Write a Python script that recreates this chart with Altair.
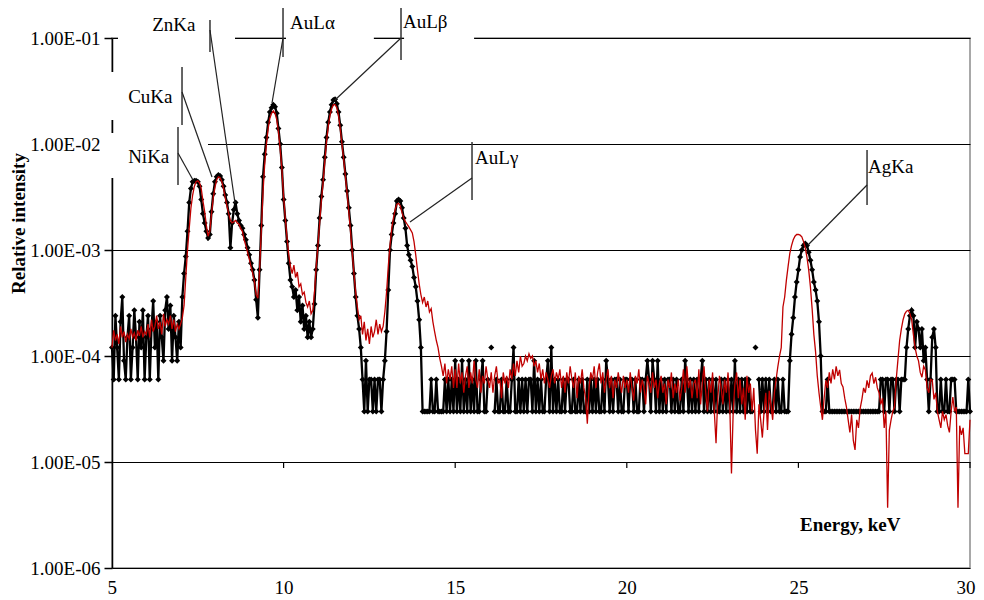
import altair as alt
import pandas as pd

FONT = "Liberation Serif"

# energy grid (keV), 0.05 keV steps from 5 to 30
energy = [round(5 + 0.05 * i, 2) for i in range(501)]

b05 = [1.2e-4, 6e-5, 2.4e-4, 1.2e-4, 6e-5, 2.1e-4, 3.6e-4, 9e-5, 6e-5, 1.5e-4, 2.4e-4, 6e-5, 1.2e-4, 2.7e-4, 1.5e-4, 6e-5, 2.1e-4, 1.2e-4, 2.7e-4, 6e-5]
b06 = [1.5e-4, 2.4e-4, 6e-5, 1.8e-4, 3.3e-4, 1.2e-4, 2.1e-4, 6e-5, 2.4e-4, 1.5e-4, 9e-5, 2.7e-4, 3.6e-4, 1.8e-4, 3e-4, 9e-5, 2.4e-4, 1.5e-4, 9e-5, 2.1e-4]
b07 = [1.2e-4, 3.6e-4, 6e-4, 8.7e-4, 1.5e-3, 2.8e-3, 3.8e-3, 4.4e-3, 4.5e-3, 4.5e-3, 4.4e-3, 4.0e-3, 3.0e-3, 2.2e-3, 1.8e-3, 1.5e-3, 1.3e-3, 1.4e-3, 2.3e-3, 3.4e-3]
b08 = [4.4e-3, 4.9e-3, 5.1e-3, 5.0e-3, 4.6e-3, 4.0e-3, 3.3e-3, 2.8e-3, 2.2e-3, 1.05e-3, 1.8e-3, 2.4e-3, 2.8e-3, 2.2e-3, 1.9e-3, 1.7e-3, 1.6e-3, 1.4e-3, 1.25e-3, 1.05e-3]
b09 = [9e-4, 7.5e-4, 6.5e-4, 5.2e-4, 3.4e-4, 2.3e-4, 6.5e-4, 1.7e-3, 4.9e-3, 8.0e-3, 1.15e-2, 1.6e-2, 2.0e-2, 2.2e-2, 2.35e-2, 2.25e-2, 1.95e-2, 1.4e-2, 1.0e-2, 6.0e-3]
b10 = [3.0e-3, 1.9e-3, 1.2e-3, 7.5e-4, 5.2e-4, 4.5e-4, 3.6e-4, 4.2e-4, 2.7e-4, 3.6e-4, 2.1e-4, 3e-4, 1.8e-4, 2.4e-4, 1.5e-4, 2.1e-4, 1.5e-4, 1.8e-4, 3.1e-4, 6.5e-4]
b11 = [1.1e-3, 2.0e-3, 3.2e-3, 4.6e-3, 7.5e-3, 1.15e-2, 1.6e-2, 2.0e-2, 2.35e-2, 2.6e-2, 2.65e-2, 2.4e-2, 2.0e-2, 1.5e-2, 1.05e-2, 7.5e-3, 5.2e-3, 3.6e-3, 2.5e-3, 1.7e-3]
b12 = [1.0e-3, 6.0e-4, 3.6e-4, 2.4e-4, 1.8e-4, 1.2e-4, 6e-5, 3e-5, 9e-5, 3e-5, 6e-5, 6e-5, 3e-5, 6e-5, 3e-5, 6e-5, 6e-5, 3e-5, 6e-5, 9e-5]
b13 = [1.7e-4, 4.2e-4, 1.0e-3, 1.4e-3, 1.8e-3, 2.2e-3, 2.9e-3, 3.0e-3, 2.9e-3, 2.5e-3, 2.0e-3, 1.6e-3, 1.1e-3, 9e-4, 8e-4, 7e-4, 5.5e-4, 4.5e-4, 3.3e-4, 2.2e-4]
b14 = [1.2e-4, 3e-5, 3e-5, 3e-5, 3e-5, 3e-5, 6e-5, 3e-5, 3e-5, 6e-5, 3e-5, 3e-5, 3e-5, 3e-5, 6e-5, 3e-5, 6e-5, 3e-5, 6e-5, 3e-5]
b15 = [9e-5, 3e-5, 6e-5, 3e-5, 9e-5, 3e-5, 6e-5, 3e-5, 9e-5, 3e-5, 6e-5, 3e-5, 9e-5, 3e-5, 3e-5, 6e-5, 9e-5, 3e-5, 3e-5, 6e-5]
b16 = [None, 1.2e-4, None, 3e-5, 6e-5, 3e-5, 3e-5, 6e-5, 3e-5, 3e-5, 6e-5, 3e-5, 3e-5, 6e-5, 1.2e-4, 3e-5, 3e-5, 6e-5, 3e-5, 6e-5]
b17 = [3e-5, 6e-5, 3e-5, 6e-5, 6e-5, 3e-5, 9e-5, 3e-5, 6e-5, 3e-5, 6e-5, 3e-5, 3e-5, 6e-5, 9e-5, 3e-5, 1.2e-4, 3e-5, 6e-5, 3e-5]
b18 = [6e-5, 3e-5, 3e-5, 6e-5, 3e-5, 6e-5, 6e-5, 3e-5, 3e-5, 6e-5, 3e-5, 3e-5, 6e-5, 3e-5, 6e-5, 3e-5, 3e-5, 6e-5, 3e-5, 6e-5]
b19 = [3e-5, 6e-5, 3e-5, 6e-5, 3e-5, 3e-5, 6e-5, 3e-5, 9e-5, 6e-5, 3e-5, 6e-5, 3e-5, 6e-5, 6e-5, 3e-5, 6e-5, 3e-5, 3e-5, 6e-5]
b20 = [6e-5, 3e-5, 6e-5, 6e-5, 3e-5, 6e-5, 3e-5, 3e-5, 6e-5, 6e-5, 3e-5, 6e-5, 9e-5, 6e-5, 3e-5, 9e-5, 6e-5, 3e-5, 9e-5, 3e-5]
b21 = [6e-5, 3e-5, 6e-5, 3e-5, 6e-5, 6e-5, 3e-5, 6e-5, 3e-5, 6e-5, 3e-5, 3e-5, 6e-5, 3e-5, 9e-5, 6e-5, 3e-5, 6e-5, 3e-5, 6e-5]
b22 = [3e-5, 6e-5, 3e-5, 6e-5, 9e-5, 3e-5, 6e-5, 3e-5, 6e-5, 3e-5, 6e-5, 3e-5, 6e-5, 3e-5, 3e-5, 6e-5, 3e-5, 6e-5, 3e-5, 6e-5]
b23 = [3e-5, 6e-5, 3e-5, 9e-5, 3e-5, 6e-5, 3e-5, 6e-5, 3e-5, 6e-5, 3e-5, 6e-5, 3e-5, 3e-5, None, 1.2e-4, None, 6e-5, 3e-5, 6e-5]
b24 = [3e-5, 6e-5, 3e-5, 6e-5, 3e-5, 3e-5, 6e-5, 3e-5, 6e-5, 3e-5, 3e-5, 6e-5, 3e-5, 3e-5, 3e-5, 9e-5, 1.6e-4, 2.3e-4, 3.6e-4, 5e-4]
b25 = [6.5e-4, 8.6e-4, 1.0e-3, 1.1e-3, 1.15e-3, 1.1e-3, 9.5e-4, 8e-4, 6.5e-4, 5e-4, 4.2e-4, 3.3e-4, 2.1e-4, 1e-4, 3e-5, 3e-5, 3e-5, 6e-5, 3e-5, 3e-5]
b26 = [3e-5, 3e-5, 3e-5, 3e-5, 3e-5, 3e-5, 3e-5, 3e-5, 3e-5, 3e-5, 3e-5, 3e-5, 3e-5, 3e-5, 3e-5, 3e-5, 3e-5, 3e-5, 3e-5, 3e-5]
b27 = [3e-5, 3e-5, 3e-5, 3e-5, 3e-5, 3e-5, 3e-5, 3e-5, 6e-5, 6e-5, 3e-5, 6e-5, 6e-5, 3e-5, 6e-5, 6e-5, 3e-5, 6e-5, 6e-5, 3e-5]
b28 = [6e-5, 6e-5, 6e-5, 1.2e-4, 1.8e-4, 2.4e-4, 2.7e-4, 2.4e-4, 1.2e-4, 2.1e-4, 1.8e-4, 1.2e-4, 1.8e-4, 9e-5, 1.2e-4, 6e-5, 3e-5, 6e-5, 1.5e-4, 1.8e-4]
b29 = [1.2e-4, 3e-5, 3e-5, 6e-5, 3e-5, 3e-5, 6e-5, 3e-5, 3e-5, 6e-5, 6e-5, 6e-5, 3e-5, 3e-5, 3e-5, 3e-5, 3e-5, 3e-5, 3e-5, 6e-5]
b30 = [3e-5]

# simulated spectrum (red line)
r05 = [1.2e-4, 1.75e-4, 1.4e-4, 1.6e-4, 1.3e-4, 1.9e-4, 1.5e-4, 1.7e-4, 1.35e-4, 1.6e-4, 1.45e-4, 1.8e-4, 1.5e-4, 1.65e-4, 1.4e-4, 1.75e-4, 1.55e-4, 1.9e-4, 1.5e-4, 1.7e-4]
r06 = [1.6e-4, 2.0e-4, 1.5e-4, 2.2e-4, 1.7e-4, 1.9e-4, 2.4e-4, 1.8e-4, 2.1e-4, 1.6e-4, 2.5e-4, 1.9e-4, 2.2e-4, 2.0e-4, 2.4e-4, 1.8e-4, 2.2e-4, 1.7e-4, 2.0e-4, 1.8e-4]
r07 = [2.0e-4, 2.3e-4, 3.0e-4, 5.5e-4, 1.0e-3, 1.6e-3, 2.5e-3, 3.3e-3, 4.0e-3, 4.4e-3, 4.5e-3, 4.3e-3, 3.8e-3, 2.9e-3, 2.3e-3, 1.7e-3, 1.35e-3, 1.5e-3, 2.2e-3, 3.1e-3]
r08 = [3.9e-3, 4.6e-3, 4.9e-3, 4.8e-3, 4.4e-3, 3.8e-3, 3.1e-3, 2.6e-3, 2.2e-3, 1.9e-3, 1.8e-3, 1.85e-3, 1.9e-3, 1.8e-3, 1.75e-3, 1.6e-3, 1.5e-3, 1.25e-3, 1.1e-3, 9.5e-4]
r09 = [8.2e-4, 7e-4, 6e-4, 5e-4, 3.8e-4, 3.5e-4, 6.5e-4, 1.5e-3, 3.5e-3, 6.5e-3, 1.0e-2, 1.4e-2, 1.75e-2, 1.95e-2, 2.05e-2, 1.95e-2, 1.7e-2, 1.3e-2, 9e-3, 5.8e-3]
r10 = [3.2e-3, 2.0e-3, 1.3e-3, 9e-4, 7e-4, 6e-4, 7.2e-4, 5.5e-4, 6.2e-4, 4.5e-4, 4.8e-4, 3.8e-4, 4.0e-4, 3.2e-4, 2.9e-4, 3.3e-4, 2.5e-4, 2.7e-4, 4e-4, 7e-4]
r11 = [1.1e-3, 1.8e-3, 2.9e-3, 4.3e-3, 6.8e-3, 1.05e-2, 1.45e-2, 1.85e-2, 2.15e-2, 2.35e-2, 2.35e-2, 2.2e-2, 1.85e-2, 1.4e-2, 1.0e-2, 7.2e-3, 5e-3, 3.4e-3, 2.3e-3, 1.5e-3]
r12 = [9.5e-4, 6e-4, 4e-4, 2.9e-4, 2.2e-4, 2.4e-4, 1.6e-4, 2.1e-4, 1.4e-4, 1.8e-4, 1.3e-4, 1.9e-4, 1.5e-4, 1.7e-4, 2.2e-4, 1.6e-4, 2.0e-4, 1.7e-4, 1.9e-4, 2.6e-4]
r13 = [4e-4, 7e-4, 1.1e-3, 1.6e-3, 2.0e-3, 2.4e-3, 2.7e-3, 2.75e-3, 2.6e-3, 2.25e-3, 2.0e-3, 1.85e-3, 1.75e-3, 1.65e-3, 1.55e-3, 1.45e-3, 1.2e-3, 9e-4, 6.5e-4, 4.8e-4]
r14 = [3.8e-4, 3.2e-4, 3.6e-4, 2.9e-4, 3.3e-4, 2.6e-4, 2.8e-4, 2.1e-4, 1.7e-4, 1.4e-4, 1.2e-4, 9.5e-5, 8e-5, 6.5e-5, 8.5e-5, 5.5e-5, 7.5e-5, 6e-5, 8e-5, 5e-5]
r15 = [7.5e-5, 5e-5, 8.5e-5, 5.5e-5, 7e-5, 4.5e-5, 6.5e-5, 8e-5, 5e-5, 7e-5, 5.5e-5, 9e-5, 6e-5, 5e-5, 7.5e-5, 4.5e-5, 6.5e-5, 5.5e-5, 8e-5, 6e-5]
r16 = [5e-5, 7e-5, 4.5e-5, 6.5e-5, 8e-5, 5.5e-5, 6e-5, 4e-5, 7e-5, 5.5e-5, 6.5e-5, 5e-5, 7.5e-5, 6e-5, 8.5e-5, 6.5e-5, 9e-5, 7e-5, 1e-4, 8e-5]
r17 = [8.5e-5, 1e-4, 9e-5, 1.05e-4, 9.5e-5, 1e-4, 8e-5, 9e-5, 7e-5, 8.5e-5, 6e-5, 7.5e-5, 5.5e-5, 7e-5, 6e-5, 5e-5, 6.5e-5, 7.5e-5, 5.5e-5, 7e-5]
r18 = [6e-5, 7.5e-5, 5e-5, 6.5e-5, 4.5e-5, 7e-5, 5.5e-5, 8e-5, 6e-5, 5e-5, 7e-5, 4e-5, 6.5e-5, 5.5e-5, 7.5e-5, 5e-5, 4e-5, 2.3e-5, 5e-5, 7e-5]
r19 = [6e-5, 8e-5, 5e-5, 7e-5, 8.5e-5, 5.5e-5, 7e-5, 4.5e-5, 6e-5, 7.5e-5, 5e-5, 6.5e-5, 4e-5, 6e-5, 5e-5, 7e-5, 5.5e-5, 4.5e-5, 6.5e-5, 5e-5]
r20 = [6e-5, 4.5e-5, 7e-5, 5e-5, 3.8e-5, 6.5e-5, 5.5e-5, 7.5e-5, 4.5e-5, 6e-5, 5e-5, 3.5e-5, 6.5e-5, 5.5e-5, 4.5e-5, 7e-5, 5e-5, 6e-5, 4e-5, 5.5e-5]
r21 = [6.5e-5, 4.5e-5, 5.5e-5, 3.5e-5, 6e-5, 5e-5, 7e-5, 4e-5, 5.5e-5, 4.5e-5, 6e-5, 3.8e-5, 5e-5, 7.5e-5, 4.5e-5, 8e-5, 5e-5, 6e-5, 4e-5, 5.5e-5]
r22 = [6e-5, 4e-5, 7.5e-5, 3.5e-5, 5.5e-5, 8e-5, 4.5e-5, 3e-5, 6e-5, 4.5e-5, 7e-5, 3e-5, 1.5e-5, 4e-5, 6.5e-5, 5e-5, 3.5e-5, 6e-5, 4.5e-5, 7e-5]
r23 = [3.5e-5, 7.8e-6, 3e-5, 5.5e-5, 7e-5, 4e-5, 6e-5, 3.5e-5, 5e-5, 2.5e-5, 6.5e-5, 4.5e-5, 5.5e-5, 3e-5, 5e-5, 2e-5, 1.2e-5, 3.5e-5, 2.5e-5, 1.7e-5]
r24 = [3e-5, 4.5e-5, 2e-5, 4.7e-5, 3.5e-5, 2.5e-5, 4.5e-5, 6e-5, 7.9e-5, 1e-4, 1.2e-4, 2.9e-4, 3.6e-4, 5.2e-4, 7e-4, 9.3e-4, 1.1e-3, 1.25e-3, 1.35e-3, 1.4e-3]
r25 = [1.4e-3, 1.38e-3, 1.33e-3, 1.2e-3, 1.05e-3, 8.5e-4, 6.5e-4, 4.5e-4, 2.8e-4, 1.6e-4, 1.1e-4, 6.5e-5, 4.5e-5, 3.3e-5, 2.5e-5, 4e-5, 5.9e-5, 5e-5, 7e-5, 5.5e-5]
r26 = [7.5e-5, 6e-5, 8e-5, 6.5e-5, 7.4e-5, 5.5e-5, 5.1e-5, 4e-5, 3.3e-5, 2.5e-5, 1.9e-5, 2.8e-5, 1.6e-5, 1.3e-5, 2.5e-5, 2.1e-5, 3.2e-5, 3.9e-5, 5e-5, 4.5e-5]
r27 = [5.9e-5, 5e-5, 6.5e-5, 6.9e-5, 5.5e-5, 6.3e-5, 5e-5, 4.5e-5, 3.5e-5, 4e-5, 2.1e-5, 3e-5, 3.7e-6, 2e-5, 2.5e-5, 3e-5, 3.3e-5, 6e-5, 9.2e-5, 1.4e-4]
r28 = [1.8e-4, 2.2e-4, 2.5e-4, 2.65e-4, 2.7e-4, 2.5e-4, 2.2e-4, 1.6e-4, 1.2e-4, 1e-4, 9e-5, 7e-5, 6.3e-5, 8e-5, 7.4e-5, 5e-5, 4.5e-5, 6e-5, 5.9e-5, 3.9e-5]
r29 = [4.5e-5, 3e-5, 2.5e-5, 2.1e-5, 3e-5, 2.5e-5, 2.8e-5, 2.2e-5, 1.9e-5, 3e-5, 4.1e-5, 3e-5, 3.3e-5, 3.7e-6, 2.2e-5, 1.8e-5, 2.1e-5, 1.2e-5, 1.2e-5, 1.2e-5]
r30 = [2.5e-5]

black = (b05 + b06 + b07 + b08 + b09 + b10 + b11 + b12 + b13 + b14 + b15 + b16 + b17 + b18 + b19
         + b20 + b21 + b22 + b23 + b24 + b25 + b26 + b27 + b28 + b29 + b30)
red = (r05 + r06 + r07 + r08 + r09 + r10 + r11 + r12 + r13 + r14 + r15 + r16 + r17 + r18 + r19
       + r20 + r21 + r22 + r23 + r24 + r25 + r26 + r27 + r28 + r29 + r30)
assert len(black) == len(energy) == len(red)

# peak labels (energy, intensity in data units)
lab_text = ["ZnKa", "AuLα", "AuLβ", "CuKa", "NiKa", "AuLγ", "AgKa"]
lab_x = [6.17, 10.19, 13.48, 5.47, 5.47, 15.58, 27.03]
lab_y = [0.133, 0.138, 0.1415, 0.0277, 0.00754, 0.00738, 0.00607]

# vertical label bars
bar_x = [7.855, 9.983, 13.421, 7.04, 6.923, 15.49, 27.0]
bar_y1 = [0.1478, 0.2047, 0.2047, 0.0533, 0.01447, 0.01045, 0.00877]
bar_y2 = [0.0738, 0.0662, 0.062, 0.01511, 0.0041, 0.002965, 0.002657]

# leader lines: from bar to peak
ld_x1 = [7.855, 9.983, 13.421, 7.04, 6.923, 15.49, 27.0]
ld_y1 = [0.119, 0.1, 0.1, 0.03094, 0.00822, 0.004777, 0.0041]
ld_x2 = [8.584, 9.662, 11.498, 7.914, 7.36, 13.683, 25.28]
ld_y2 = [0.002776, 0.02437, 0.026, 0.004887, 0.004574, 0.001837, 0.001114]

# white label backgrounds that hide gridline / axis pieces
box_x1 = [5.175, 10.07, 13.51, 4.65, 4.65]
box_x2 = [8.584, 12.63, 15.55, 5.06, 7.797]
box_y1 = [0.119, 0.119, 0.119, 0.0478, 0.0127]
box_y2 = [0.0841, 0.0841, 0.0841, 0.01684, 0.00478]

# x tick marks on the 1E-05 line
tick_x = [10, 15, 20, 25, 30]

df = pd.DataFrame({"E": energy, "black": black, "red": red})
labels = pd.DataFrame({"x": lab_x, "y": lab_y, "t": lab_text})
bars = pd.DataFrame({"x": bar_x, "y1": bar_y1, "y2": bar_y2})
leaders = pd.DataFrame({"x1": ld_x1, "y1": ld_y1, "x2": ld_x2, "y2": ld_y2})
boxes = pd.DataFrame({"x1": box_x1, "x2": box_x2, "y1": box_y1, "y2": box_y2})
ticks = pd.DataFrame({"x": tick_x, "y1": [1e-5] * 5, "y2": [8.8e-6] * 5})
energy_lab = pd.DataFrame({"x": [25.05], "y": [2.55e-6], "t": ["Energy, keV"]})

xs = alt.Scale(domain=[5, 30], nice=False, zero=False)
ys = alt.Scale(type="log", domain=[1e-6, 1e-1], nice=False)

x_axis = alt.Axis(values=[5, 10, 15, 20, 25, 30], format="d", labelFont=FONT, labelFontSize=19,
                  labelColor="black", ticks=False, domain=False, grid=False, labelPadding=10,
                  labelFlush=True, labelFlushOffset=5, title=None)
y_axis = alt.Axis(values=[1e-6, 1e-5, 1e-4, 1e-3, 1e-2, 1e-1],
                  labelExpr="'1.00E-0' + format(-round(log(datum.value) / LN10), 'd')",
                  labelFont=FONT, labelFontSize=19, labelColor="black", labelPadding=4,
                  tickSize=8, tickColor="black", tickWidth=1.5,
                  domainColor="black", domainWidth=1.5,
                  grid=True, gridColor="black", gridWidth=1,
                  title="Relative intensity", titleFont=FONT, titleFontSize=19,
                  titleFontWeight="bold", titleColor="black", titleX=-88, titleY=185,
                  titleAngle=270, titleBaseline="alphabetic", titleAlign="center")

box_layer = alt.Chart(boxes).mark_rect(color="white").encode(
    x=alt.X("x1:Q", scale=xs, axis=x_axis), x2="x2:Q",
    y=alt.Y("y1:Q", scale=ys, axis=y_axis), y2="y2:Q")

tick_layer = alt.Chart(ticks).mark_rule(color="black", strokeWidth=1.2).encode(
    x=alt.X("x:Q", scale=xs, axis=x_axis),
    y=alt.Y("y1:Q", scale=ys, axis=y_axis), y2="y2:Q")

black_layer = alt.Chart(df).mark_line(
    color="black", strokeWidth=2.3,
    point=alt.OverlayMarkDef(shape="diamond", size=36, filled=True, color="black")
).encode(x=alt.X("E:Q", scale=xs, axis=x_axis), y=alt.Y("black:Q", scale=ys, axis=y_axis))

red_layer = alt.Chart(df).mark_line(color="#c00000", strokeWidth=1.3).encode(
    x=alt.X("E:Q", scale=xs, axis=x_axis), y=alt.Y("red:Q", scale=ys, axis=y_axis))

bar_layer = alt.Chart(bars).mark_rule(color="#333333", strokeWidth=1.5).encode(
    x=alt.X("x:Q", scale=xs, axis=x_axis),
    y=alt.Y("y1:Q", scale=ys, axis=y_axis), y2="y2:Q")

leader_layer = alt.Chart(leaders).mark_rule(color="#222222", strokeWidth=1.2).encode(
    x=alt.X("x1:Q", scale=xs, axis=x_axis), x2="x2:Q",
    y=alt.Y("y1:Q", scale=ys, axis=y_axis), y2="y2:Q")

text_layer = alt.Chart(labels).mark_text(
    align="left", baseline="middle", font=FONT, fontSize=19, color="black"
).encode(x=alt.X("x:Q", scale=xs, axis=x_axis), y=alt.Y("y:Q", scale=ys, axis=y_axis), text="t:N")

energy_layer = alt.Chart(energy_lab).mark_text(
    align="left", baseline="middle", font=FONT, fontSize=19, fontWeight="bold", color="black"
).encode(x=alt.X("x:Q", scale=xs, axis=x_axis), y=alt.Y("y:Q", scale=ys, axis=y_axis), text="t:N")

chart = alt.layer(
    box_layer, tick_layer, black_layer, red_layer, bar_layer, leader_layer, text_layer, energy_layer
).properties(
    width=858, height=530,
    autosize=alt.AutoSizeParams(type="none"),
    padding={"left": 104, "top": 30, "right": 6, "bottom": 28},
    background="white",
).configure_view(stroke="#8c8c8c", strokeWidth=1.5)

chart.save("out.html", embed_options={"renderer": "svg", "actions": False})
